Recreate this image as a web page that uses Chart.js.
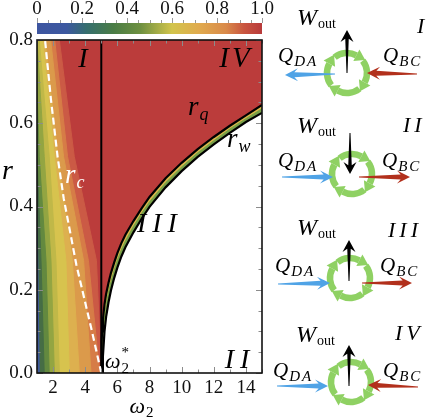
<!DOCTYPE html>
<html>
<head>
<meta charset="utf-8">
<script src="https://cdn.jsdelivr.net/npm/chart.js@4.4.0/dist/chart.umd.min.js"></script>
<style>
  html, body { margin: 0; padding: 0; background: #fff; }
  #wrap { position: relative; width: 436px; height: 418px; overflow: hidden; }
  #main, #bar { position: absolute; left: 0; top: 0; }
</style>
</head>
<body>
<div id="wrap">
  <canvas id="main" width="436" height="418"></canvas>
  <canvas id="bar" width="436" height="40"></canvas>
</div>
<script>
const SERIF = '"Liberation Serif", "DejaVu Serif", serif';

// axes
const omegaTicks = [2, 4, 6, 8, 10, 12, 14];
const omegaMinor = [1, 2, 3, 4, 5, 6, 7, 8, 9, 10, 11, 12, 13, 14, 15];
const rTicks = [0, 0.2, 0.4, 0.6, 0.8];
const rTickLabels = ['0.0', '0.2', '0.4', '0.6', '0.8'];
const rMinor = [0.05, 0.1, 0.15, 0.25, 0.3, 0.35, 0.45, 0.5, 0.55, 0.65, 0.7, 0.75];
const omegaStar = 5;

// colour bar
const barTicks = [0, 0.2, 0.4, 0.6, 0.8, 1.0];
const barTickLabels = ['0', '0.2', '0.4', '0.6', '0.8', '1.0'];
const barStops = [0, 0.13, 0.22, 0.34, 0.46, 0.6, 0.72, 0.84, 0.92, 1];
const barColors = ['#3d55a0', '#3c58a0', '#356e6e', '#4a7c45', '#6e9040', '#d2c44c', '#e0aa4e', '#d98a4a', '#c9553f', '#b83a3b'];

// contour edges left of omega2*: omega2 of each edge at these r values
const edgeR = [0, 0.27, 0.52, 0.8];
const edge1 = [1.14, 1.05, 0.9, 0.7];
const edge2 = [1.45, 1.25, 1.0, 0.8];
const edge3 = [1.76, 1.56, 1.14, 0.9];
const edge4 = [2.08, 1.87, 1.45, 1.0];
const edge5 = [2.39, 2.18, 1.76, 1.14];
const edge6 = [3.01, 2.8, 2.08, 1.35];
const edge7 = [3.63, 3.2, 2.29, 1.5];
const edge8 = [4.36, 3.9, 2.65, 1.85];
const edge9 = [4.9, 4.2, 2.9, 2.1];
const edge10 = [5.0, 4.7, 3.32, 2.39];
const edges = [edge1, edge2, edge3, edge4, edge5, edge6, edge7, edge8, edge9, edge10];
// colour of the band just left of each edge
const bandColors = ['#3f5a9c', '#466d45', '#63893f', '#93a542', '#c0b848', '#d7c34e', '#ddb04f', '#db9a4b', '#d67c47', '#cb5a45'];
const redColor = '#bb3c3b';

// critical line r_c
const rcOmega = [5.0, 4.42, 3.45, 2.66, 2.28, 1.86, 1.5];
const rcR = [0, 0.1, 0.26, 0.42, 0.52, 0.66, 0.8];

// r_q and r_w boundaries
const curveOmega = [5, 5.02, 5.05, 5.1, 5.2, 5.3, 5.45, 5.6, 5.8, 6, 6.25, 6.5, 7, 7.5, 8, 9, 10, 11, 12, 13, 14, 15];
const rqVals = [0, 0.075, 0.10, 0.128, 0.165, 0.19, 0.217, 0.24, 0.265, 0.288, 0.312, 0.332, 0.365, 0.395, 0.423, 0.468, 0.505, 0.538, 0.567, 0.594, 0.619, 0.644];
const rmVals = [0, 0.035, 0.05, 0.085, 0.133, 0.163, 0.194, 0.219, 0.247, 0.271, 0.296, 0.317, 0.352, 0.383, 0.411, 0.457, 0.495, 0.529, 0.558, 0.586, 0.611, 0.635];
const rwVals = [0, 0, 0, 0.04, 0.10, 0.135, 0.17, 0.198, 0.228, 0.253, 0.28, 0.302, 0.338, 0.37, 0.399, 0.446, 0.485, 0.519, 0.549, 0.577, 0.603, 0.625];

const pts = (xs, ys) => xs.map((x, i) => ({ x: x, y: ys[i] }));

function polyDs(data, color) {
  return { data: data, showLine: true, fill: 'shape', backgroundColor: color,
           borderColor: color, borderWidth: 1, pointRadius: 0 };
}
function lineDs(data, color, width, dash) {
  return { data: data, showLine: true, fill: false, borderColor: color,
           borderWidth: width, borderDash: dash || [], pointRadius: 0 };
}

// datasets, top-most first
const datasets = [];
datasets.push(lineDs(pts(rcOmega, rcR), '#ffffff', 2.2, [7, 4]));
datasets.push(lineDs([{ x: omegaStar, y: 0 }, { x: omegaStar, y: 0.8 }], '#000', 2));
datasets.push(lineDs(pts(curveOmega, rqVals), '#000', 2.2));
datasets.push(lineDs(pts(curveOmega, rwVals), '#000', 2.2));
datasets.push(polyDs(pts(curveOmega, rwVals).concat([{ x: 15, y: 0 }]), '#ffffff'));
datasets.push(polyDs(pts(curveOmega, rmVals).concat([{ x: 15, y: 0 }]), '#78a048'));
datasets.push(polyDs(pts(curveOmega, rqVals).concat([{ x: 15, y: 0 }]), '#dab84a'));
edges.forEach((e, k) => {
  datasets.push(polyDs(pts(e, edgeR).concat([{ x: 0, y: 0.8 }, { x: 0, y: 0 }]), bandColors[k]));
});
datasets.push(polyDs([{ x: 0, y: 0 }, { x: 16, y: 0 }, { x: 16, y: 0.9 }, { x: 0, y: 0.9 }], redColor));

// labels inside the plot (data coordinates)
const plotLabels = [
  { main: 'I', x: 3.86, y: 0.735, size: 28, align: 'center', spacing: 0 },
  { main: 'IV', x: 13.38, y: 0.735, size: 29, align: 'center', spacing: 3 },
  { main: 'III', x: 8.65, y: 0.339, size: 28, align: 'center', spacing: 6 },
  { main: 'II', x: 13.63, y: 0.012, size: 28, align: 'center', spacing: 6 },
  { main: 'r', sub: 'q', x: 10.4, y: 0.62, size: 27 },
  { main: 'r', sub: 'w', x: 12.82, y: 0.543, size: 27 },
  { main: 'r', sub: 'c', x: 2.74, y: 0.456, size: 27, color: '#ffffff' },
  { main: 'ω', sub: '2', sup: '*', x: 5.23, y: 0.012, size: 22, subRoman: true }
];

// heat/work diagrams on the right
const panels = [
  { name: 'I', cx: 347, cy: 73, work: [347, 73, 347, 30], blue: [335, 74, 285, 75], red: [417, 74, 367, 73],
    w: [297, 25], q1: [278, 62], q2: [383, 62], num: [417, 33] },
  { name: 'II', cx: 352, cy: 174, work: [350, 133, 350, 174], blue: [282, 177, 333, 177], red: [359, 177, 410, 177],
    w: [297, 133], q1: [278, 167], q2: [382, 167], num: [403, 132] },
  { name: 'III', cx: 350, cy: 278, work: [349, 281, 349, 240], blue: [278, 284, 330, 283], red: [362, 283, 412, 283],
    w: [297, 235], q1: [275, 272], q2: [380, 272], num: [388, 237] },
  { name: 'IV', cx: 351, cy: 382, work: [349, 386, 349, 345], blue: [277, 386, 328, 386], red: [418, 387, 368, 385],
    w: [296, 342], q1: [273, 377], q2: [383, 377], num: [395, 340] }
];

function it(size) { return 'italic ' + size + 'px ' + SERIF; }
function rm(size) { return size + 'px ' + SERIF; }

function drawText(ctx, t, x, y, font, spacing) {
  ctx.font = font;
  ctx.letterSpacing = (spacing || 0) + 'px';
  ctx.fillText(t, x, y);
  const w = ctx.measureText(t).width;
  ctx.letterSpacing = '0px';
  return w;
}

function taperArrow(ctx, a, color, w0, w1, headW, headL) {
  const x0 = a[0], y0 = a[1], x1 = a[2], y1 = a[3];
  const dx = x1 - x0, dy = y1 - y0, L = Math.hypot(dx, dy);
  const ux = dx / L, uy = dy / L, nx = -uy, ny = ux;
  const bx = x1 - ux * headL, by = y1 - uy * headL;
  const kx = x1 - ux * headL * 0.72, ky = y1 - uy * headL * 0.72;
  ctx.beginPath();
  ctx.moveTo(x0 + nx * w0 / 2, y0 + ny * w0 / 2);
  ctx.lineTo(kx + nx * w1 / 2, ky + ny * w1 / 2);
  ctx.lineTo(bx + nx * headW / 2, by + ny * headW / 2);
  ctx.lineTo(x1, y1);
  ctx.lineTo(bx - nx * headW / 2, by - ny * headW / 2);
  ctx.lineTo(kx - nx * w1 / 2, ky - ny * w1 / 2);
  ctx.lineTo(x0 - nx * w0 / 2, y0 - ny * w0 / 2);
  ctx.closePath();
  ctx.fillStyle = color;
  ctx.fill();
}

function drawRing(ctx, cx, cy) {
  const R = 20, col = '#8fd163';
  ctx.save();
  ctx.strokeStyle = col; ctx.fillStyle = col; ctx.lineWidth = 6.5;
  for (let k = 0; k < 4; k++) {
    const a0 = (k * 90 - 38) * Math.PI / 180, a1 = (k * 90 + 28) * Math.PI / 180;
    ctx.beginPath(); ctx.arc(cx, cy, R, a0, a1); ctx.stroke();
    const px = cx + R * Math.cos(a1), py = cy + R * Math.sin(a1);
    const tx = -Math.sin(a1), ty = Math.cos(a1), nx = Math.cos(a1), ny = Math.sin(a1);
    ctx.beginPath();
    ctx.moveTo(px + nx * 6.5, py + ny * 6.5);
    ctx.lineTo(px + tx * 10, py + ty * 10);
    ctx.lineTo(px - nx * 6.5, py - ny * 6.5);
    ctx.closePath(); ctx.fill();
  }
  ctx.restore();
}

function drawPanel(ctx, p) {
  drawRing(ctx, p.cx, p.cy);
  taperArrow(ctx, p.blue, '#4fa3e6', 1, 5, 13, 13);
  taperArrow(ctx, p.red, '#b2301c', 1, 5, 13, 13);
  taperArrow(ctx, p.work, '#000', 1, 3.5, 13, 12);
  ctx.fillStyle = '#000';
  ctx.textBaseline = 'alphabetic'; ctx.textAlign = 'left';
  let w = drawText(ctx, 'W', p.w[0], p.w[1], it(24));
  drawText(ctx, 'out', p.w[0] + w + 1, p.w[1] + 3, rm(14));
  w = drawText(ctx, 'Q', p.q1[0], p.q1[1], it(21));
  drawText(ctx, 'DA', p.q1[0] + w + 1, p.q1[1] + 4, it(15), 2);
  w = drawText(ctx, 'Q', p.q2[0], p.q2[1], it(21));
  drawText(ctx, 'BC', p.q2[0] + w + 1, p.q2[1] + 4, it(15), 2);
  drawText(ctx, p.name, p.num[0], p.num[1], it(22), 4);
}

const overlay = {
  id: 'overlay',
  afterDatasetsDraw(chart) {
    const ctx = chart.ctx, a = chart.chartArea;
    const sx = chart.scales.x, sy = chart.scales.y;
    ctx.save();
    // inside tick marks
    ctx.strokeStyle = '#8c8c8c'; ctx.lineWidth = 1;
    ctx.beginPath();
    omegaMinor.forEach(v => {
      const x = Math.round(sx.getPixelForValue(v)) + 0.5;
      const len = omegaTicks.includes(v) ? 6 : 3.5;
      ctx.moveTo(x, a.bottom); ctx.lineTo(x, a.bottom - len);
      ctx.moveTo(x, a.top); ctx.lineTo(x, a.top + len);
    });
    rTicks.concat(rMinor).forEach((v, i) => {
      const y = Math.round(sy.getPixelForValue(v)) + 0.5;
      const len = i < rTicks.length ? 6 : 3.5;
      ctx.moveTo(a.left, y); ctx.lineTo(a.left + len, y);
      ctx.moveTo(a.right, y); ctx.lineTo(a.right - len, y);
    });
    ctx.stroke();
    // frame
    ctx.strokeStyle = '#111'; ctx.lineWidth = 1.6;
    ctx.strokeRect(a.left, a.top, a.right - a.left, a.bottom - a.top);

    // labels in plot
    ctx.textBaseline = 'alphabetic';
    plotLabels.forEach(l => {
      const x = sx.getPixelForValue(l.x), y = sy.getPixelForValue(l.y);
      ctx.fillStyle = l.color || '#000';
      if (l.align === 'center') {
        ctx.textAlign = 'center';
        drawText(ctx, l.main, x, y, it(l.size), l.spacing);
        ctx.textAlign = 'left';
        return;
      }
      ctx.textAlign = 'left';
      const w = drawText(ctx, l.main, x, y, it(l.size));
      const subSize = Math.round(l.size * 0.66);
      drawText(ctx, l.sub, x + w + 1, y + 5, l.subRoman ? rm(subSize) : it(subSize));
      if (l.sup) drawText(ctx, l.sup, x + w + 1, y - 11, rm(subSize));
    });

    // axis titles
    ctx.fillStyle = '#000'; ctx.textAlign = 'left';
    drawText(ctx, 'r', a.left - 35, sy.getPixelForValue(0.465), it(28));
    const ox = sx.getPixelForValue(6.75);
    const w = drawText(ctx, 'ω', ox, 413, it(22));
    drawText(ctx, '2', ox + w + 1, 417, rm(15));

    // right panels
    panels.forEach(p => drawPanel(ctx, p));
    ctx.restore();
  }
};

new Chart(document.getElementById('main'), {
  type: 'scatter',
  data: { datasets: datasets },
  options: {
    responsive: false,
    animation: false,
    events: [],
    layout: { padding: { top: 40, right: 174, left: 0, bottom: 0 } },
    elements: { point: { radius: 0, hoverRadius: 0 }, line: { tension: 0 } },
    plugins: { legend: { display: false }, tooltip: { enabled: false } },
    scales: {
      x: {
        type: 'linear', min: 1, max: 15,
        afterBuildTicks: s => { s.ticks = omegaTicks.map(v => ({ value: v })); },
        afterFit: s => { s.height = 45; },
        grid: { display: false, drawTicks: false },
        border: { display: false },
        ticks: { font: { family: SERIF, size: 19 }, color: '#111', padding: 4,
                 maxRotation: 0, autoSkip: false, callback: v => String(v) }
      },
      y: {
        type: 'linear', min: 0, max: 0.8,
        afterBuildTicks: s => { s.ticks = rTicks.map(v => ({ value: v })); },
        afterFit: s => { s.width = 37; },
        grid: { display: false, drawTicks: false },
        border: { display: false },
        ticks: { font: { family: SERIF, size: 19 }, color: '#111', padding: 4,
                 autoSkip: false, callback: (v, i) => rTickLabels[i] }
      }
    }
  },
  plugins: [overlay]
});

// colour bar
const barMinor = {
  id: 'barMinor',
  afterDatasetsDraw(chart) {
    const ctx = chart.ctx, a = chart.chartArea, sx = chart.scales.x;
    ctx.save();
    ctx.strokeStyle = '#9a9a9a'; ctx.lineWidth = 1;
    ctx.beginPath();
    for (let i = 0; i <= 20; i++) {
      const x = Math.round(sx.getPixelForValue(i / 20)) + 0.5;
      const len = i % 4 === 0 ? 5 : 3;
      ctx.moveTo(x, a.top); ctx.lineTo(x, a.top - len);
    }
    ctx.stroke();
    ctx.restore();
  }
};

new Chart(document.getElementById('bar'), {
  type: 'bar',
  data: {
    labels: [''],
    datasets: [{
      data: [[0, 1]],
      barPercentage: 1, categoryPercentage: 1, borderWidth: 0, borderSkipped: false,
      backgroundColor: c => {
        const ca = c.chart.chartArea;
        if (!ca) return barColors[0];
        const g = c.chart.ctx.createLinearGradient(ca.left, 0, ca.right, 0);
        barStops.forEach((s, i) => g.addColorStop(s, barColors[i]));
        return g;
      }
    }]
  },
  options: {
    indexAxis: 'y',
    responsive: false,
    animation: false,
    events: [],
    layout: { padding: { top: 0, left: 37, right: 174, bottom: 6 } },
    plugins: { legend: { display: false }, tooltip: { enabled: false } },
    scales: {
      x: {
        position: 'top', min: 0, max: 1,
        afterBuildTicks: s => { s.ticks = barTicks.map(v => ({ value: v })); },
        afterFit: s => { s.height = 23; },
        grid: { display: false, drawTicks: false },
        border: { display: false },
        ticks: { font: { family: SERIF, size: 19 }, color: '#111', padding: 3,
                 maxRotation: 0, autoSkip: false, callback: (v, i) => barTickLabels[i] }
      },
      y: { display: false }
    }
  },
  plugins: [barMinor]
});
</script>
</body>
</html>
